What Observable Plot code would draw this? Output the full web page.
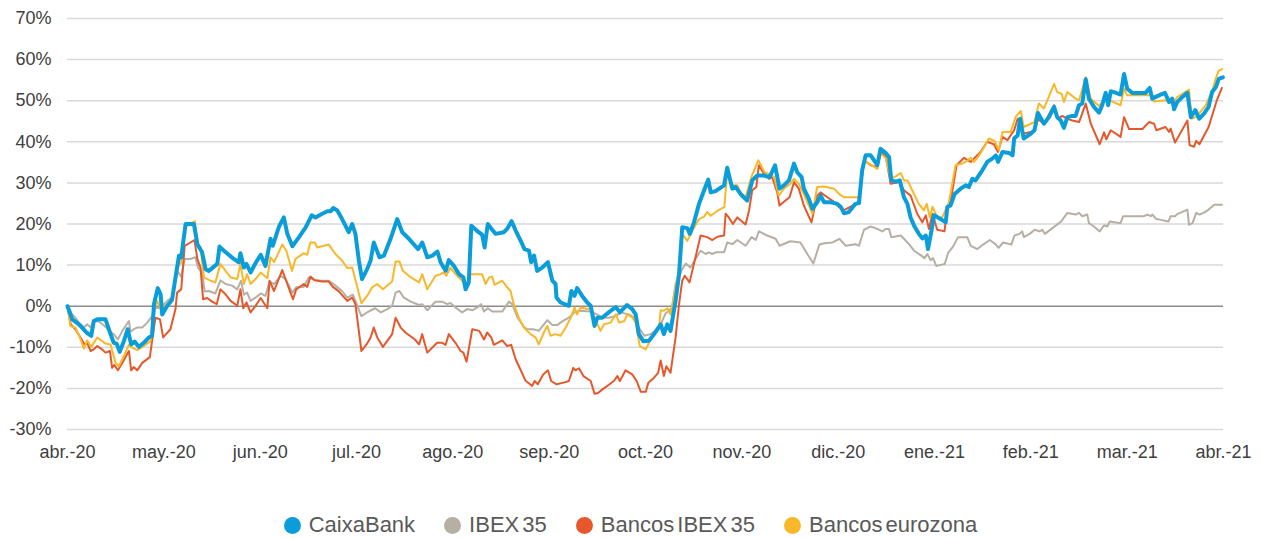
<!DOCTYPE html>
<html>
<head>
<meta charset="utf-8">
<script src="https://cdn.jsdelivr.net/npm/d3@7"></script>
<script src="https://cdn.jsdelivr.net/npm/@observablehq/plot@0.6"></script>
<style>
  body { margin: 0; background: #fff; font-family: "Liberation Sans", Arial, sans-serif; }
  #wrap { position: relative; width: 1261px; height: 538px; }
  .legend { position: absolute; top: 512px; left: 0; width: 1261px; display: flex; justify-content: center; gap: 29px; font-size: 22px; color: #595959; word-spacing: -3px; }
  .item { display: flex; align-items: center; white-space: nowrap; }
  .sw { width: 17px; height: 17px; border-radius: 50%; margin-right: 8px; }
</style>
</head>
<body>
<div id="wrap"><div id="chart"></div><div class="legend" id="legend"></div></div>
<script>
// x tick labels (one per month, uniformly spaced)
const monthLabels = ["abr.-20","may.-20","jun.-20","jul.-20","ago.-20","sep.-20","oct.-20","nov.-20","dic.-20","ene.-21","feb.-21","mar.-21","abr.-21"];
const yTicks = [-30,-20,-10,0,10,20,30,40,50,60,70];
const seriesNames = ["CaixaBank","IBEX 35","Bancos IBEX 35","Bancos eurozona"];
const seriesColors = ["#0B9DD9","#B7AFA3","#E5582C","#F8B82A"];

// [days since 1 Apr 2020, % change]
const caixaBank = [[0,0],[1.5,-3.2],[3.1,-4.1],[4.6,-5.2],[6,-6.4],[7.5,-7.2],[8.3,-3.6],[9.4,-3.2],[12,-3.2],[13.6,-6.8],[14.6,-8.9],[15.5,-9.1],[16.5,-11.1],[17.8,-8.5],[19,-5.6],[20.1,-9.3],[21.2,-8.6],[22.5,-9.9],[24.1,-8.9],[25.7,-7.6],[26.7,-7.2],[27.3,0.5],[28.5,4.4],[29.4,2.9],[29.9,-2.0],[31.5,0.1],[33,1.5],[34.1,7.0],[35.2,12.3],[35.9,11.9],[37.3,20.0],[39.9,20.0],[41,15.1],[42.5,13.1],[43.6,9.0],[44.6,8.6],[47.3,10.3],[48,14.5],[49.4,13.5],[52.5,11.5],[54.1,10.7],[54.6,12.9],[55.7,9.4],[56.5,10.3],[57.8,8.2],[59.4,10.5],[61,12.5],[62.5,9.8],[64.1,16.4],[64.8,14.7],[66.7,19.2],[68.3,21.6],[69.4,17.6],[71,14.6],[73.1,16.8],[75.2,19.2],[77.1,22.1],[78.3,21.6],[80.4,22.5],[82,23.1],[83.1,23.1],[83.9,23.9],[85.2,23.3],[86.7,21.2],[88.8,18.0],[89.9,20.0],[90.9,17.6],[92,11.1],[93,6.6],[94.6,9.0],[95.7,11.1],[96.7,15.5],[98.5,11.9],[99.9,12.3],[102,16.4],[104.1,21.2],[105.7,18.0],[107.8,16.4],[110.7,13.9],[112,15.5],[113.6,11.9],[115.2,12.3],[116.8,13.3],[117.8,10.7],[119.4,8.6],[120.4,11.2],[122,9.8],[123.6,7.8],[125,7.0],[125.7,4.1],[126.7,5.8],[127.5,19.6],[129.2,18.4],[130.9,17.4],[131.7,14.3],[132.7,20.0],[134.1,18.6],[135.2,17.6],[137.8,18.0],[138.8,18.8],[140.2,20.7],[141.5,18.4],[143.1,15.9],[144.3,13.9],[145.7,13.5],[146.4,10.7],[147.3,12.3],[148.3,8.6],[149.9,9.4],[151.7,10.7],[153.1,6.2],[154.1,5.4],[154.4,2.1],[155.7,0.9],[158.3,0.1],[159.1,3.7],[160.1,2.5],[160.9,4.4],[162.5,2.5],[164.1,0.9],[165.2,0.1],[166.4,-4.8],[167.3,-2.8],[168.8,-2.8],[170.9,-1.5],[173.1,-0.2],[174.4,-1.5],[176.7,0.3],[178.3,-0.7],[179.4,-2.0],[180.4,-6.8],[181.8,-8.5],[183.6,-8.4],[185.2,-6.8],[187.3,-4.4],[188.3,-6.8],[189.4,-4.4],[190.4,-6.0],[192,1.3],[193.1,7.8],[194.1,19.2],[195.7,19.0],[196.5,17.6],[197.8,20.4],[199.4,24.9],[201,28.2],[202.3,30.8],[203.1,27.7],[204.6,28.0],[207.3,29.4],[208.3,33.7],[209.9,28.6],[211,29.0],[212.5,27.3],[214.6,25.7],[216.2,30.6],[217.8,31.8],[219.9,31.8],[221.7,31.4],[223.4,34.3],[224.8,28.6],[226.2,29.4],[227.8,30.6],[229.4,34.7],[230.4,32.6],[231.8,31.4],[232.5,28.6],[234.1,26.1],[235.2,23.7],[236.7,25.3],[237.8,26.9],[238.9,25.3],[241,25.3],[243.1,24.9],[244.2,24.1],[245.2,22.6],[246.7,22.9],[248.8,24.9],[249.9,25.1],[250.9,33.0],[252,36.7],[253.6,36.7],[255.7,34.3],[256.7,38.3],[258.3,37.3],[259.4,36.3],[260.1,30.6],[261.5,30.3],[262.8,30.6],[264.1,26.5],[265.2,24.9],[266.2,21.6],[267.3,19.6],[268.8,17.6],[269.9,16.5],[271,17.2],[271.7,13.9],[272.8,18.4],[273.6,22.1],[275.7,21.2],[277.3,20.4],[277.8,24.1],[278.8,24.5],[280.1,27.3],[282,28.6],[283.6,29.4],[284.6,29.0],[285.7,31.0],[286.7,30.6],[288.8,33.0],[290.4,35.1],[292,35.9],[293.1,36.7],[293.8,35.1],[295.2,37.5],[297.3,37.3],[298.4,36.7],[298.9,40.8],[300,41.6],[300.8,45.6],[301.9,40.8],[304.2,42.0],[305.3,42.8],[306.4,47.0],[308.3,44.4],[309.9,46.0],[311.5,48.5],[312.5,46.0],[313.6,45.2],[314.6,43.4],[315.7,46.0],[317.3,46.3],[318.3,46.3],[319.4,48.9],[320.4,49.3],[321.5,55.2],[322.5,50.5],[324.1,48.5],[325.7,47.1],[326.7,48.9],[327.8,51.9],[328.6,48.9],[329.4,52.3],[330.4,52.1],[332.5,51.5],[333.6,56.5],[334.6,52.9],[336.2,51.9],[340.4,51.9],[341.7,53.1],[342.5,50.5],[344.6,51.3],[346.5,51.9],[347.8,49.7],[348.8,50.5],[349.4,47.9],[350.4,49.7],[352,50.9],[353.6,51.9],[354.7,46.0],[356.1,47.7],[357.3,45.6],[358.9,46.9],[360.3,48.5],[361.4,52.1],[362.6,53.3],[363.5,55.3],[364.8,55.7]];

const ibex35 = [[0,0],[1.5,-2.0],[2.5,-2.8],[3.6,-4.0],[5.2,-5.2],[6.2,-4.4],[7.3,-5.2],[8.3,-3.7],[9.9,-3.7],[12,-5.0],[13.6,-6.4],[14.6,-6.8],[15.9,-8.1],[17.3,-6.0],[19.4,-3.6],[19.9,-6.2],[20.9,-5.6],[22,-5.2],[23.6,-5.2],[25.2,-4.0],[26.7,-2.4],[27.8,-0.5],[29.4,-0.3],[31.5,1.3],[33,2.1],[34.6,8.6],[35.9,7.2],[37,11.5],[38.8,11.5],[40.4,11.9],[41.2,9.4],[42.5,8.2],[43.3,3.6],[44.6,3.7],[46.7,3.1],[48.3,6.3],[49.9,5.4],[52,5.0],[53.6,4.1],[54.8,6.2],[55.7,2.8],[56.7,3.3],[57.8,1.3],[59.4,2.1],[61,3.1],[62.5,2.5],[63.8,6.0],[65.2,5.4],[67.3,7.4],[68.9,6.6],[71,3.3],[72.2,4.6],[74.6,4.7],[76.2,7.0],[78.1,6.3],[80.4,6.2],[82.5,6.2],[84.6,5.0],[86.7,3.7],[88.3,2.1],[90.1,2.8],[90.9,1.3],[92.8,-2.4],[94.6,-1.5],[97.1,-0.5],[98.9,-1.5],[101,-0.7],[102.5,0.1],[103.6,3.3],[104.8,3.7],[106.2,2.1],[108.4,1.1],[111,0.3],[112,0.5],[113.6,-1.0],[116.2,1.1],[118.3,1.1],[119.9,0.5],[120.9,0.8],[122.5,-0.3],[124.6,-1.5],[126.2,-0.7],[127.8,-1.0],[129.4,-0.3],[130.6,0.5],[131.5,-1.3],[132.7,-0.5],[134.1,-1.3],[137.3,-1.3],[139.4,1.1],[140.4,0.5],[142.1,-2.8],[144.1,-5.0],[145.1,-5.6],[147.1,-5.6],[148.8,-6.0],[151.5,-3.4],[153.1,-4.6],[154.6,-4.6],[156.2,-3.7],[158.3,-2.8],[160.1,-1.5],[161.5,-1.1],[165.2,-1.3],[167.2,-2.0],[168.8,-2.8],[170.9,-2.8],[173.1,-2.4],[174.6,-1.5],[177.2,-2.0],[179.1,-2.8],[180.4,-5.2],[182.1,-7.2],[184.1,-6.8],[185.7,-6.0],[187.3,-4.4],[188.8,-1.8],[189.9,-1.1],[190.9,-0.3],[192,5.4],[194.1,9.0],[195.2,10.4],[196.7,9.4],[198.3,11.5],[199.9,13.5],[201.5,12.7],[202.5,13.1],[203.6,12.7],[204.6,13.1],[207.3,13.1],[208.3,15.5],[209.9,15.1],[211.5,16.1],[214.1,14.7],[216,16.8],[217.3,16.1],[218.3,18.2],[220.9,17.2],[223.6,16.4],[224.8,14.7],[228.2,15.8],[231.4,15.5],[233.6,12.7],[235.5,10.4],[237.4,15.0],[239,15.3],[241.6,15.5],[243.7,16.4],[245.7,14.7],[248.8,15.1],[249.9,14.7],[251.5,18.6],[253.6,19.4],[255.7,18.8],[257.3,18.2],[258.3,18.8],[259.4,18.8],[260.1,16.8],[263.1,17.2],[264.1,16.4],[265.7,15.1],[267.3,13.5],[269.6,12.3],[270.6,11.7],[271.5,12.7],[272.5,11.2],[273.3,11.7],[274.3,9.8],[275.4,10.0],[277,10.3],[278,12.9],[279.6,14.5],[281.2,16.8],[284.1,16.8],[285.2,14.7],[287.3,13.9],[289.1,15.0],[291.2,16.1],[293,15.1],[294,14.2],[295.4,15.5],[298,15.0],[299,17.2],[300.6,17.6],[301.4,18.2],[302,16.8],[303.8,17.6],[305.4,18.6],[306.9,18.2],[307.8,18.6],[308.6,17.6],[311,19.0],[313.7,20.6],[315.7,22.7],[318.3,22.3],[319.4,22.7],[320.4,21.9],[322,22.3],[322.5,20.2],[324.1,19.4],[325.9,18.2],[327.3,19.7],[328.3,19.4],[329.1,20.6],[332.5,20.2],[333.3,21.9],[339.9,21.9],[341,22.3],[342,21.9],[342.6,22.3],[343.6,21.3],[345.2,21.0],[347.6,20.6],[348.3,21.9],[349.7,21.9],[350.4,22.4],[353.6,23.5],[354.1,19.8],[355.2,20.2],[356.4,22.7],[357.4,22.3],[358.7,22.7],[360.3,23.5],[362.1,24.7],[364.5,24.7]];

const bancosIbex = [[0,0],[1,-4.4],[2.5,-5.6],[4.1,-7.6],[5.4,-9.3],[6.2,-8.9],[7.3,-10.9],[8.3,-10.5],[9.4,-9.7],[10.9,-10.5],[12,-11.3],[13.4,-10.9],[14.1,-15.0],[14.8,-14.3],[15.9,-15.6],[17.3,-13.8],[18.8,-11.7],[19.4,-10.9],[20.1,-15.6],[20.9,-14.8],[22,-15.6],[23.6,-13.8],[26,-12.4],[27.3,-5.2],[27.8,-2.8],[29.2,-3.2],[30.2,-7.6],[32.5,-5.6],[34.1,-0.7],[34.6,3.3],[35.9,4.1],[37,14.7],[38.8,15.5],[40.1,16.1],[41,11.5],[42,9.4],[42.8,1.7],[44.1,2.0],[45.7,1.1],[47.1,0.5],[48.3,4.1],[49.9,2.9],[51.5,1.3],[53.6,0.1],[54.6,4.1],[55.5,-0.5],[56.5,0.9],[57.8,-1.5],[59.4,0.1],[61,2.0],[63.1,-0.5],[63.8,6.2],[65.2,3.7],[67.8,8.8],[69.4,5.4],[70.4,3.3],[71.2,1.7],[72.2,4.1],[74.6,5.4],[75.7,4.7],[76.7,7.2],[78.1,6.3],[80.4,6.0],[82.5,6.0],[83.8,4.7],[85.7,3.6],[88.3,1.3],[89.9,2.1],[90.9,0.5],[92.8,-10.9],[94.6,-9.1],[95.7,-7.6],[96.7,-5.2],[97.8,-7.6],[99.6,-9.9],[102.5,-6.8],[103.6,-2.8],[105.2,-5.2],[106.7,-6.4],[109.7,-8.1],[111,-9.3],[112,-6.8],[113.6,-11.3],[116.7,-8.9],[118.3,-8.9],[119.4,-9.4],[120.4,-6.8],[122.5,-8.9],[124.1,-10.9],[125,-11.3],[126,-13.5],[127.8,-5.6],[130,-6.0],[131.5,-8.1],[132.5,-6.4],[133.8,-7.6],[134.6,-9.4],[137.3,-8.3],[138.8,-9.7],[140.1,-9.4],[141.5,-12.9],[143,-15.4],[144.6,-18.1],[146.7,-19.4],[147.5,-18.2],[148.5,-19.0],[150.2,-16.6],[151.7,-15.6],[152.7,-18.2],[154.4,-19.0],[156.7,-18.6],[158.3,-18.2],[159.7,-15.0],[160.4,-15.6],[161.5,-15.1],[162.9,-17.0],[165.2,-18.2],[166.4,-21.3],[167.5,-21.1],[168.8,-20.3],[170.4,-19.4],[172.5,-18.2],[173.6,-17.0],[174.4,-18.2],[176.2,-15.6],[178.3,-16.6],[179.7,-18.2],[181,-20.8],[182.6,-20.8],[183.4,-18.6],[185.2,-17.4],[186.5,-16.2],[187.3,-13.2],[188.3,-17.0],[189.1,-14.6],[190.4,-16.2],[192,-7.6],[193.1,0.5],[194.1,6.2],[194.9,7.4],[196.4,5.8],[197.8,10.3],[199.9,17.2],[202,16.8],[203.6,16.1],[205.2,16.9],[207.3,17.2],[207.8,22.5],[208.8,21.6],[210.1,20.0],[211.5,21.6],[214.1,19.9],[215.2,23.3],[216.2,28.2],[217.5,29.0],[218.3,34.3],[219.9,32.2],[221.5,31.0],[222.5,31.4],[224.1,27.7],[224.8,24.5],[226.7,25.7],[228,26.5],[229.4,30.2],[230.9,28.6],[232.5,24.5],[234.9,20.4],[236.7,26.9],[237.8,27.7],[239.9,26.5],[241.5,25.7],[243.6,24.1],[245.2,23.4],[249.9,25.3],[251.5,35.5],[253.6,34.3],[255.7,33.8],[256.7,37.5],[258.3,36.7],[259.9,29.8],[262.6,30.2],[264.1,28.2],[266.2,26.9],[268.3,22.5],[269.9,20.4],[271,22.1],[272,18.8],[273.1,22.5],[274.6,18.6],[276.9,18.2],[277.8,24.1],[278.8,25.3],[280.7,34.3],[283.1,36.1],[284.3,35.5],[285.2,35.1],[286.2,35.9],[288.3,37.5],[290.4,40.0],[292.5,39.4],[293.8,37.5],[295.2,41.2],[296.8,40.4],[298.9,42.8],[300,45.6],[301.9,42.0],[304.2,42.4],[305.3,42.6],[306.4,45.5],[308.3,44.4],[311.5,48.9],[312.5,45.6],[314.1,46.3],[315.7,45.6],[317.3,45.2],[319.4,44.8],[321.5,49.3],[323.1,44.4],[325.9,39.4],[327.3,42.3],[328,40.6],[329.4,42.8],[332.5,41.2],[333.6,46.0],[335.2,43.1],[339.4,43.1],[341.5,44.8],[343.1,44.4],[343.8,42.8],[346.7,43.6],[347.8,42.4],[348.3,43.2],[349.7,39.8],[353.6,45.2],[354.3,39.2],[355.7,38.8],[356.4,40.2],[357.4,39.4],[360.3,43.6],[362.9,50.1],[364.5,53.1]];

const bancosEurozona = [[0,0],[0.9,-4.8],[2.5,-5.2],[3.9,-7.6],[5.2,-10.3],[6.2,-8.3],[7.5,-9.9],[9.4,-7.6],[12,-9.1],[13.6,-9.3],[15.2,-13.8],[16.2,-14.6],[17.8,-12.1],[19.4,-9.4],[20.4,-10.1],[22,-10.7],[24.1,-9.7],[26.2,-8.5],[27.3,-1.1],[28.3,1.3],[29.4,-0.7],[31.5,0.5],[33,1.3],[34.6,9.4],[35.9,10.7],[37,19.2],[38.8,20.0],[40.2,20.7],[41.2,15.1],[42,14.3],[43.1,7.0],[44.1,6.6],[45.2,6.2],[46.7,5.8],[48.3,10.3],[49.9,8.6],[51.5,7.0],[53.6,6.6],[54.6,10.3],[55.7,5.4],[56.7,7.8],[57.8,5.4],[59.4,6.6],[61,8.2],[63.1,6.8],[64.1,11.9],[65.2,10.7],[67.8,15.0],[69.1,13.5],[70.9,8.6],[72,11.5],[74.6,12.9],[75.7,12.5],[76.7,15.5],[78.1,15.5],[78.8,14.3],[82.5,15.0],[84.6,12.7],[86.7,11.1],[88.3,9.3],[89.9,9.4],[92.8,0.7],[94.6,2.5],[96.2,4.6],[97.8,5.4],[99.6,4.1],[102.5,6.0],[103.6,10.9],[104.8,10.9],[105.9,8.6],[108.4,7.0],[111,5.8],[112,7.8],[113.6,4.1],[116.2,7.4],[117.8,7.8],[118.8,8.2],[119.6,7.4],[120.9,9.4],[123,7.4],[124.6,6.2],[125.7,5.0],[127.3,7.8],[130.9,7.8],[132,5.4],[133.1,7.0],[134.1,7.2],[134.8,5.2],[137.3,6.2],[138.8,4.6],[139.9,3.7],[140.9,0.5],[142.5,-2.8],[144.1,-5.2],[146.2,-6.8],[147.8,-7.6],[148.8,-9.3],[150.4,-6.4],[151.5,-4.8],[152.5,-7.2],[154.1,-6.8],[155.7,-7.2],[157.3,-5.2],[158.9,-2.8],[160.1,-0.3],[160.9,-2.0],[162,-0.3],[164.1,-0.7],[165.2,-0.5],[166.4,-2.8],[168.3,-6.0],[169.4,-4.4],[171.5,-4.0],[173.1,-2.0],[174.2,-4.0],[175.8,-3.6],[176.8,-2.0],[178.4,-2.8],[179.4,-4.0],[180.7,-9.7],[182.6,-10.5],[184.1,-8.1],[186.7,-5.6],[187.3,-1.0],[188.3,-1.1],[189.4,-0.5],[190.4,-2.0],[192,4.6],[193.1,9.4],[194.1,17.6],[195.7,15.9],[197.3,18.4],[199.4,21.2],[201,21.8],[202,22.9],[203.1,22.0],[205.4,23.3],[207.4,24.1],[208.3,32.6],[209.9,29.4],[211.5,29.4],[212.5,27.7],[214.1,26.5],[216,31.6],[218.1,35.5],[220.1,32.6],[221.5,32.2],[223.1,31.4],[224.6,26.9],[226.2,28.6],[228.3,29.8],[229.4,31.0],[230.9,29.8],[232.5,27.3],[235.2,22.5],[236.7,29.0],[238.8,29.1],[242,28.6],[244.1,27.0],[245.2,26.5],[249.9,26.5],[251.5,35.5],[253.1,34.7],[255.7,33.4],[256.7,37.1],[258.3,36.1],[259.9,31.0],[261.5,31.6],[263.1,32.4],[264.1,30.6],[265.2,30.6],[266.7,28.2],[268.8,24.9],[270.4,23.3],[271.3,24.9],[272.3,21.6],[273.1,24.2],[274.6,21.6],[276.2,21.6],[278.3,25.3],[280.4,34.3],[282.5,34.7],[284.3,35.5],[285.2,36.1],[286.2,35.1],[287.3,36.1],[288.8,37.9],[290.9,40.8],[292.7,40.2],[294.1,37.9],[295.2,42.4],[297.8,42.4],[299.4,46.1],[301,47.5],[301.9,43.6],[304.2,44.4],[305.3,44.8],[306.7,49.3],[308.3,48.1],[311.5,54.1],[312.5,52.1],[313.9,51.7],[314.6,49.7],[315.7,52.1],[318.3,50.5],[319.4,50.1],[321.5,55.7],[323.1,50.5],[325.7,48.7],[327.8,50.5],[332.5,48.9],[333.6,52.9],[334.6,51.3],[342,51.3],[343,49.8],[346.7,50.1],[348.8,49.3],[350.4,50.9],[354.1,52.7],[354.9,45.6],[356.2,46.0],[357.3,46.9],[359.4,48.9],[361.5,52.5],[362.5,55.3],[363.5,57.3],[364.6,57.7]];

const seriesData = [caixaBank, ibex35, bancosIbex, bancosEurozona];
const rows = seriesData.flatMap((arr, i) => arr.map(([d, v]) => ({series: seriesNames[i], x: d * 12 / 365, y: v})));
const of = name => rows.filter(r => r.series === name);

const font = '"Liberation Sans", Arial, sans-serif';
const chart = Plot.plot({
  width: 1261,
  height: 480,
  marginLeft: 67,
  marginRight: 38,
  marginTop: 18,
  marginBottom: 51,
  style: {fontFamily: font, fontSize: "18px", color: "#404040", background: "#fff"},
  x: {type: "linear", domain: [0, 12]},
  y: {domain: [-30, 70]},
  marks: [
    Plot.ruleY(yTicks.filter(d => d !== 0), {stroke: "#D9D9D9", strokeWidth: 1.5}),
    Plot.ruleY([0], {stroke: "#8C8C8C", strokeWidth: 1.5}),
    Plot.axisY({ticks: yTicks, tickSize: 0, tickPadding: 16, tickFormat: d => `${d}%`, label: null, fontSize: 18}),
    Plot.axisX({ticks: d3.range(monthLabels.length), tickSize: 0, tickPadding: 16, tickFormat: i => monthLabels[i], label: null, fontSize: 18}),
    Plot.line(of("IBEX 35"), {x: "x", y: "y", stroke: seriesColors[1], strokeWidth: 2, strokeLinejoin: "round"}),
    Plot.line(of("Bancos IBEX 35"), {x: "x", y: "y", stroke: seriesColors[2], strokeWidth: 2, strokeLinejoin: "round"}),
    Plot.line(of("Bancos eurozona"), {x: "x", y: "y", stroke: seriesColors[3], strokeWidth: 2, strokeLinejoin: "round"}),
    Plot.line(of("CaixaBank"), {x: "x", y: "y", stroke: seriesColors[0], strokeWidth: 4, strokeLinejoin: "round"})
  ]
});
document.getElementById("chart").appendChild(chart);

const legend = document.getElementById("legend");
seriesNames.forEach((name, i) => {
  const item = document.createElement("div");
  item.className = "item";
  const sw = document.createElement("span");
  sw.className = "sw";
  sw.style.background = seriesColors[i];
  const label = document.createElement("span");
  label.textContent = name;
  item.appendChild(sw);
  item.appendChild(label);
  legend.appendChild(item);
});
</script>
</body>
</html>
